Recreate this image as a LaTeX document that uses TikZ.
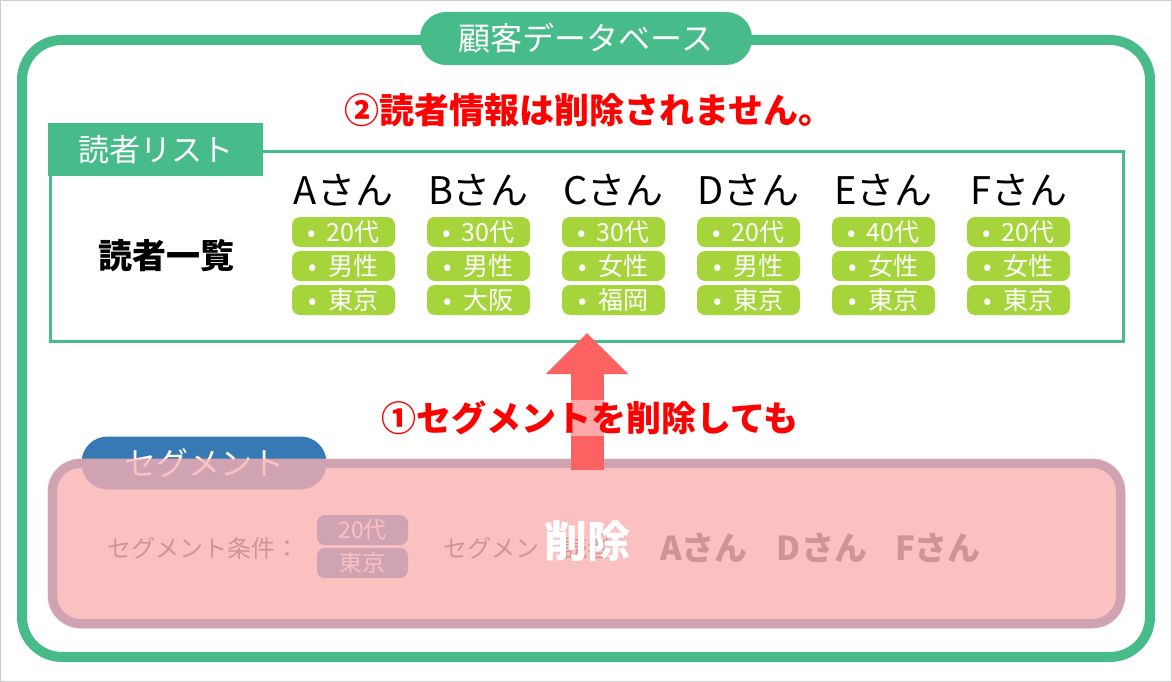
\documentclass[tikz,border=0pt]{standalone}
\usepackage{fontspec}
\setmainfont{Noto Sans CJK JP}
\usepackage{xcolor}
\usetikzlibrary{arrows.meta}
\definecolor{dbGreen}{RGB}{71,187,138}
\definecolor{chipGreen}{RGB}{166,213,59}
\definecolor{segBlue}{RGB}{54,121,181}
\definecolor{segPink}{RGB}{251,176,176}
\definecolor{arrowRed}{RGB}{252,98,98}
\definecolor{noteRed}{RGB}{255,0,0}
\definecolor{segText}{RGB}{51,51,51}
\newcommand{\dotsp}{•\hspace{11pt}}
\begin{document}
\begin{tikzpicture}
      [ x=1pt, y=-1pt
      , dbFrame/.style={draw=dbGreen, line width=10pt, rounded corners=40pt, minimum width=1128pt, minimum height=617pt}
      , dbTitle/.style={fill=dbGreen, text=white, rounded corners=26pt, minimum width=332pt, minimum height=53pt, font=\fontsize{32}{36}\selectfont}
      , listTab/.style={fill=dbGreen, text=white, minimum width=215pt, minimum height=53pt, font=\fontsize{31}{35}\selectfont}
      , listBox/.style={draw=dbGreen, line width=3pt, minimum width=1073pt, minimum height=190.5pt}
      , reader/.style={inner sep=0pt, font=\fontsize{38}{42}\selectfont}
      , chip/.style={fill=chipGreen, text=white, rounded corners=8pt, minimum width=103pt, minimum height=30pt, inner sep=0pt, font=\fontsize{25}{27}\selectfont}
      , segBox/.style={draw=segBlue, fill=white, line width=9pt, rounded corners=28pt, minimum width=1068pt, minimum height=160pt}
      , segTab/.style={fill=segBlue, text=white, rounded corners=26pt, minimum width=245pt, minimum height=53pt, font=\fontsize{32}{36}\selectfont}
      , segChip/.style={fill=segBlue, text=white, rounded corners=8pt, minimum width=91pt, minimum height=30pt, inner sep=0pt, font=\fontsize{23}{25}\selectfont}
      , segLabel/.style={text=segText, inner sep=0pt, font=\fontsize{24}{26}\selectfont}
      , segName/.style={text=segText, inner sep=0pt, font=\fontsize{33}{37}\selectfont\bfseries}
      , segCover/.style={fill=segPink, fill opacity=0.78, rounded corners=33pt, minimum width=1078pt, minimum height=170pt}
      , redNote/.style={text=noteRed, inner sep=1pt, font=\fontsize{35}{39}\selectfont\bfseries}
      , delArrow/.style={draw=arrowRed, line width=33pt, -{Triangle[width=80pt, length=41pt]}}
      ]
    \useasboundingbox (0,0) rectangle (1172,682);
    \draw[black!20, line width=1pt] (0.5,0.5) rectangle (1171.5,681.5);

    \node[dbFrame] (DBF) at (586,348.5) {};
    \node[dbTitle] (DB) at (586,38.5) {顧客データベース};

    \node[redNote] (N2) at (589,110) {②読者情報は削除されません。};

    \node[listBox] (LB) at (587,246.25) {};
    \node[listTab] (LT) at (155.5,149.5) {読者リスト};
    \node[inner sep=0pt, font=\fontsize{34}{38}\selectfont\bfseries] (LL) at (166,256) {読者一覧};

    \node[reader] (A) at (343.5,190) {Aさん};
    \node[reader] (B) at (478.5,190) {Bさん};
    \node[reader] (C) at (613.5,190) {Cさん};
    \node[reader] (D) at (748.5,190) {Dさん};
    \node[reader] (E) at (883.5,190) {Eさん};
    \node[reader] (F) at (1018.5,190) {Fさん};

    \node[chip] (A1) at (343.5,232) {\dotsp 20代};
    \node[chip] (A2) at (343.5,266) {\dotsp 男性};
    \node[chip] (A3) at (343.5,300) {\dotsp 東京};
    \node[chip] (B1) at (478.5,232) {\dotsp 30代};
    \node[chip] (B2) at (478.5,266) {\dotsp 男性};
    \node[chip] (B3) at (478.5,300) {\dotsp 大阪};
    \node[chip] (C1) at (613.5,232) {\dotsp 30代};
    \node[chip] (C2) at (613.5,266) {\dotsp 女性};
    \node[chip] (C3) at (613.5,300) {\dotsp 福岡};
    \node[chip] (D1) at (748.5,232) {\dotsp 20代};
    \node[chip] (D2) at (748.5,266) {\dotsp 男性};
    \node[chip] (D3) at (748.5,300) {\dotsp 東京};
    \node[chip] (E1) at (883.5,232) {\dotsp 40代};
    \node[chip] (E2) at (883.5,266) {\dotsp 女性};
    \node[chip] (E3) at (883.5,300) {\dotsp 東京};
    \node[chip] (F1) at (1018.5,232) {\dotsp 20代};
    \node[chip] (F2) at (1018.5,266) {\dotsp 女性};
    \node[chip] (F3) at (1018.5,300) {\dotsp 東京};

    \node[segBox] (SB) at (586.5,543.5) {};
    \node[segTab] (ST) at (204,463) {セグメント};
    \node[segLabel] (SC) at (203,548) {セグメント条件：};
    \node[segChip] (S1) at (362.5,530) {20代};
    \node[segChip] (S2) at (362.5,563) {東京};
    \node[segLabel, anchor=west] (SR) at (443,548) {セグメント読者：};
    \node[segName] (SA) at (704,548) {Aさん};
    \node[segName] (SD) at (822,548) {Dさん};
    \node[segName] (SF) at (938,548) {Fさん};
    \node[segCover] (SO) at (586.5,543.5) {};
    \node[text=white, inner sep=0pt, font=\fontsize{43}{47}\selectfont\bfseries] (DEL) at (587.5,541) {削除};

    \coordinate (AF) at (587,470);
    \coordinate (AT) at (587,333);
    \draw[delArrow] (AF) -- (AT);

    \node[redNote, fill=white, fill opacity=0.45, text opacity=1] (N1) at (590,418) {①セグメントを削除しても};

  \end{tikzpicture}
\end{document}
